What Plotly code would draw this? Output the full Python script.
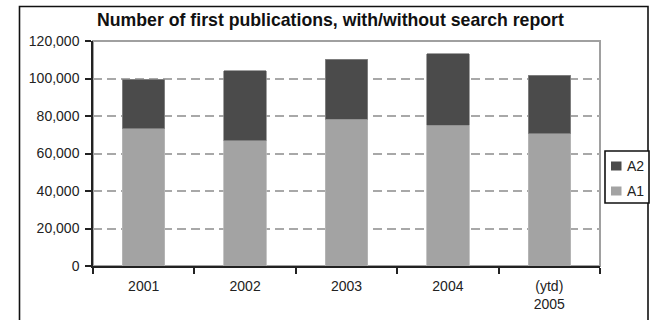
import plotly.graph_objects as go

# ---- data ----
categories = ["2001", "2002", "2003", "2004", "(ytd)<br>2005"]
a1_values = [73300, 66800, 78200, 75000, 70500]
totals = [99500, 104200, 110300, 113200, 101700]
a2_values = [t - a for t, a in zip(totals, a1_values)]
series_names = ["A1", "A2"]
y_ticks = [0, 20000, 40000, 60000, 80000, 100000, 120000]

# ---- style ----
C_A1 = "#a3a3a3"
C_A2 = "#4b4b4b"
FONT = "Liberation Sans, Arial, sans-serif"

# plot area in pixels
L, R, T, B = 93, 600, 41, 266
W, H = 650, 320


def px2x(px):
    return (px - L) / (R - L)


def py2y(py):
    return (B - py) / (B - T)


fig = go.Figure()
fig.add_trace(go.Bar(x=categories, y=a1_values, name=series_names[0],
                     marker=dict(color=C_A1, line=dict(color="#b8b8b8", width=0.8)),
                     width=0.42, showlegend=False))
fig.add_trace(go.Bar(x=categories, y=a2_values, name=series_names[1],
                     marker=dict(color=C_A2, line=dict(color="#8a8a8a", width=0.8)),
                     width=0.42, showlegend=False))

shapes = []
# plot area border (top/right grey)
shapes.append(dict(type="rect", xref="paper", yref="paper", x0=0, x1=1, y0=0, y1=1,
                   line=dict(color="#a0a0a0", width=2), layer="below"))
# outer chart border
shapes.append(dict(type="rect", xref="paper", yref="paper",
                   x0=px2x(19.5), x1=px2x(648), y0=py2y(330), y1=py2y(6.5),
                   line=dict(color="#111111", width=1.6)))
# manual legend box
lx0, lx1, ly0, ly1 = 605, 649, 151, 203
shapes.append(dict(type="rect", xref="paper", yref="paper",
                   x0=px2x(lx0), x1=px2x(lx1), y0=py2y(ly1), y1=py2y(ly0),
                   line=dict(color="#111111", width=1.6), fillcolor="white"))
annotations = []
legend_items = [(series_names[1], C_A2, 166), (series_names[0], C_A1, 191)]
for name, col, cy in legend_items:
    shapes.append(dict(type="rect", xref="paper", yref="paper",
                       x0=px2x(611), x1=px2x(621.5), y0=py2y(cy + 4.5), y1=py2y(cy - 4.5),
                       line=dict(width=0), fillcolor=col))
    annotations.append(dict(text=name, xref="paper", yref="paper", x=px2x(624.5), y=py2y(cy),
                            xanchor="left", yanchor="middle", showarrow=False,
                            font=dict(family=FONT, size=14, color="#222222")))

fig.update_layout(
    width=W, height=H,
    margin=dict(l=L, r=W - R, t=T, b=H - B, pad=0, autoexpand=False),
    paper_bgcolor="white", plot_bgcolor="white",
    barmode="stack",
    bargap=0.58,
    showlegend=False,
    font=dict(family=FONT, size=14, color="#222222"),
    title=dict(text="<b>Number of first publications, with/without search report</b>",
               xref="paper", x=px2x(97), xanchor="left",
               yref="container", y=1 - 19.5 / H, yanchor="middle",
               font=dict(family=FONT, size=17.7, color="#111111")),
    xaxis=dict(type="category", tickson="boundaries", ticks="outside", ticklen=6,
               tickcolor="#222222", tickwidth=1.5, automargin=False,
               showline=True, linecolor="#222222", linewidth=1.5,
               showgrid=False, ticklabelstandoff=6,
               tickfont=dict(size=14, color="#222222")),
    yaxis=dict(range=[0, 120000], tickvals=y_ticks, tickformat=",",
               ticks="outside", ticklen=6, tickcolor="#222222", tickwidth=1.5,
               showline=True, linecolor="#222222", linewidth=1.5, automargin=False,
               showgrid=True, gridcolor="#a8a8a8", gridwidth=1.5, griddash="9px,5px",
               zeroline=False, ticklabelstandoff=3,
               tickfont=dict(size=14, color="#222222")),
    shapes=shapes,
    annotations=annotations,
)

fig.write_html("out.html")
